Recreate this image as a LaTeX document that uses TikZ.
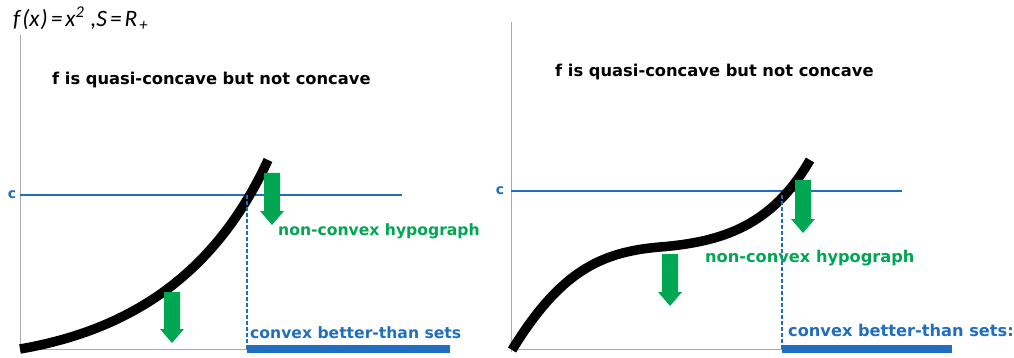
\documentclass[tikz,border=0pt]{standalone}
\usepackage{fontspec}
\setsansfont{DejaVu Sans}
\newfontfamily\calfont{Carlito}
\usetikzlibrary{arrows.meta}

\definecolor{cblue}{RGB}{31,110,192}
\definecolor{hgreen}{RGB}{0,166,81}
\definecolor{axgray}{RGB}{170,170,170}

% block arrow pointing down: x, top y, bottom y
\newcommand{\hypoarrow}[3]{%
  \fill[hgreen] (#1-8,#2) -- (#1+8,#2) -- (#1+8,#3-14) -- (#1+12,#3-14)
    -- (#1,#3) -- (#1-12,#3-14) -- (#1-8,#3-14) -- cycle;}

\begin{document}
\begin{tikzpicture}[
    x=1pt, y=-1pt,
    every node/.style={font=\sffamily\bfseries\fontsize{15.6}{18}\selectfont, inner sep=0pt},
    title/.style={font=\sffamily\bfseries\fontsize{16.3}{19}\selectfont},
    clabel/.style={cblue, font=\sffamily\bfseries\fontsize{14}{16}\selectfont},
    axis/.style={axgray, line width=1pt},
    cline/.style={cblue, line width=1.4pt},
    fcurve/.style={black, line width=9.5pt},
    drop/.style={cblue, dash pattern=on 4pt off 2pt, line width=1.1pt},
    setbar/.style={cblue, line width=8pt}
]
\useasboundingbox (0,0) rectangle (1014,358);

% Formula
\node[anchor=west, font=\calfont\itshape\fontsize{23.5}{26}\selectfont] (formula) at (13,19)
    {f\kern2pt(x\kern1pt)\kern3pt=\kern3pt x\textsuperscript{2}\kern6pt,S\kern3pt=\kern3pt R\textsubscript{\kern2pt+}};

% ---------- left panel ----------
% Axes
\coordinate (lo) at (20,349);
\coordinate (ltop) at (20,35);
\coordinate (lx) at (247,349);
\draw[axis] (lo |- 0,352) -- (ltop);
\draw[axis] (lo) -- (lx);

% Level c
\node[clabel] (lc) at (12,195) {c};
\coordinate (lcend) at (402,195);
\draw[cline] (20,195) -- (lcend);

\node[title, anchor=west] (ltitle) at (52,80) {f is quasi-concave but not concave};

% Curve
\draw[fcurve] (lo) .. controls (130,330) and (215,275) .. (268,160);

% Better-than set
\coordinate (lcross) at (247,195);
\draw[drop] (lcross) -- (lx);
\coordinate (lbar) at (450,349);
\draw[setbar] (lx) -- (lbar);

% Arrows and labels
\hypoarrow{272}{173}{225}
\hypoarrow{172}{292}{343}
\node[hgreen, anchor=west] (lhypo) at (278,231) {non-convex hypograph};
\node[cblue, anchor=west] (lbetter) at (250,333) {convex better-than sets};

% ---------- right panel ----------
% Axes
\coordinate (ro) at (511,349);
\coordinate (rtop) at (511,22);
\coordinate (rx) at (782,349);
\draw[axis] (ro |- 0,352) -- (rtop);
\draw[axis] (ro) -- (rx);

% Level c
\node[clabel] (rc) at (500,191) {c};
\coordinate (rcend) at (902,191);
\draw[cline] (511,191) -- (rcend);

\node[title, anchor=west] (rtitle) at (555,72) {f is quasi-concave but not concave};

% Curve
\draw[fcurve] (512,350) .. controls (560,272) and (600,252) .. (660,247)
    .. controls (722,242) and (772,226) .. (810,160);

% Better-than set
\coordinate (rcross) at (782,195);
\draw[drop] (rcross) -- (rx);
\coordinate (rbar) at (952,349);
\draw[setbar] (rx) -- (rbar);

% Arrows and labels
\hypoarrow{803}{180}{233}
\hypoarrow{670}{254}{306}
\node[hgreen, anchor=west, font=\sffamily\bfseries\fontsize{16.2}{19}\selectfont] (rhypo) at (705,258) {non-convex hypograph};
\node[cblue, anchor=west, font=\sffamily\bfseries\fontsize{16.2}{19}\selectfont] (rbetter) at (788,330) {convex better-than sets:};

\end{tikzpicture}
\end{document}
